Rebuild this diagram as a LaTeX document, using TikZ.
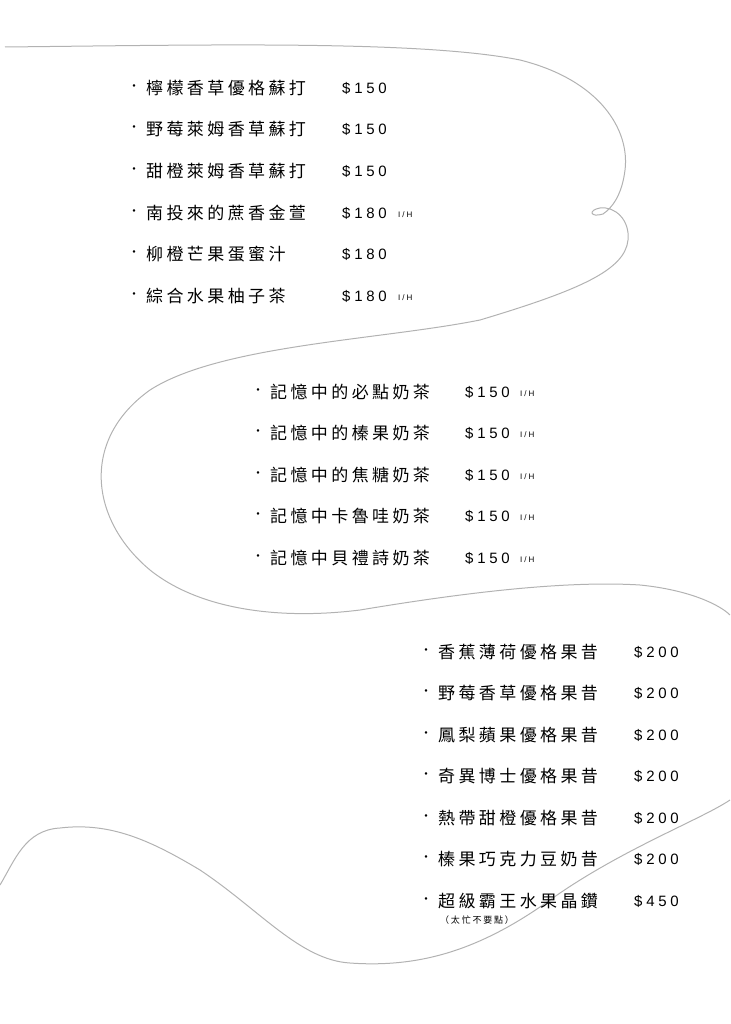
\documentclass[tikz,border=0pt]{standalone}
\usepackage{fontspec}
\newfontfamily\cjk[LetterSpace=20]{Noto Sans CJK TC}
\newfontfamily\num[LetterSpace=25]{Liberation Sans}
\begin{document}
\begin{tikzpicture}[x=1pt,y=-1pt,
  item/.style={anchor=west,inner sep=0pt,font=\cjk\fontsize{17}{17}\selectfont},
  price/.style={anchor=west,inner sep=0pt,font=\num\fontsize{15}{15}\selectfont},
  ih/.style={anchor=west,inner sep=0pt,font=\num\fontsize{8}{8}\selectfont},
  dotb/.style={anchor=center,inner sep=0pt,font=\cjk\fontsize{12}{12}\selectfont},
  curve/.style={draw=black!30,line width=1pt}]
\useasboundingbox (0,0) rectangle (730,1024);
% top swirl
\draw[curve] (5,47) .. controls (200,45) and (420,40) .. (520,60)
  .. controls (600,80) and (630,130) .. (625,170)
  .. controls (622,195) and (612,208) .. (603,214)
  .. controls (590,218) and (588,210) .. (600,208)
  .. controls (615,206) and (630,220) .. (628,240)
  .. controls (625,270) and (580,290) .. (480,320)
  .. controls (380,340) and (220,345) .. (150,390)
  .. controls (80,440) and (90,520) .. (150,570)
  .. controls (200,610) and (280,620) .. (360,610)
  .. controls (450,595) and (560,580) .. (640,585)
  .. controls (690,590) and (720,605) .. (730,615);
% bottom curve
\draw[curve] (0,885) .. controls (15,860) and (25,830) .. (60,828)
  .. controls (110,822) and (150,840) .. (200,870)
  .. controls (260,910) and (300,960) .. (350,963)
  .. controls (420,968) and (480,950) .. (550,900)
  .. controls (620,850) and (700,820) .. (730,800);
% group 1
\foreach \t/\p/\y/\h in {檸檬香草優格蘇打/\$150/88/0,野莓萊姆香草蘇打/\$150/129/0,甜橙萊姆香草蘇打/\$150/171/0,南投來的蔗香金萱/\$180/213/1,柳橙芒果蛋蜜汁/\$180/254/0,綜合水果柚子茶/\$180/296/1}{
  \node[dotb] (d\y) at (134,\y) {·};
  \node[item] (t\y) at (146,\y) {\t};
  \node[price] (p\y) at (342,\y) {\p};
  \ifnum\h=1 \node[ih] (h\y) at (398,\y+2) {I/H};\fi
}
% group 2
\foreach \t/\y in {記憶中的必點奶茶/392,記憶中的榛果奶茶/433,記憶中的焦糖奶茶/475,記憶中卡魯哇奶茶/516,記憶中貝禮詩奶茶/558}{
  \node[dotb] (d\y) at (258,\y) {·};
  \node[item] (t\y) at (270,\y) {\t};
  \node[price] (p\y) at (465,\y) {\$150};
  \node[ih] (h\y) at (520,\y+2) {I/H};
}
% group 3
\foreach \t/\p/\y in {香蕉薄荷優格果昔/\$200/652,野莓香草優格果昔/\$200/693,鳳梨蘋果優格果昔/\$200/735,奇異博士優格果昔/\$200/776,熱帶甜橙優格果昔/\$200/818,榛果巧克力豆奶昔/\$200/859,超級霸王水果晶鑽/\$450/901}{
  \node[dotb] (d\y) at (426,\y) {·};
  \node[item] (t\y) at (438,\y) {\t};
  \node[price] (p\y) at (634,\y) {\p};
}
\node[anchor=west,inner sep=0pt,font=\cjk\fontsize{9}{9}\selectfont] (note) at (440,920) {（太忙不要點）};
\end{tikzpicture}
\end{document}
